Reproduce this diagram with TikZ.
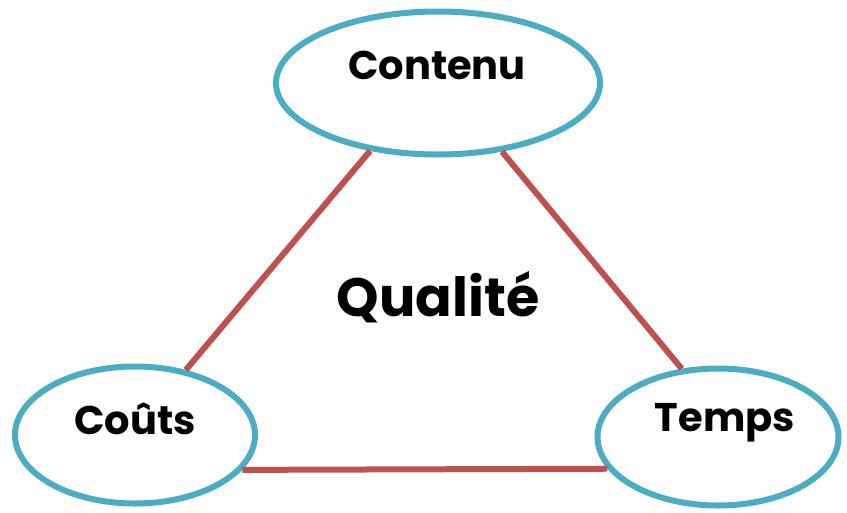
\documentclass[tikz,border=0pt]{standalone}
\usepackage{fontspec}
\setmainfont{Poppins}
\usetikzlibrary{shapes.geometric}
\definecolor{bordbleu}{RGB}{75,172,198}
\definecolor{lienrouge}{RGB}{192,80,77}

\begin{document}
\begin{tikzpicture}[x=1pt,y=-1pt,
  sommet/.style={ellipse, draw=bordbleu, line width=6pt, fill=white, inner sep=0pt},
  titre/.style={font=\bfseries\fontsize{40}{40}\selectfont},
  lien/.style={lienrouge, line width=6pt}]
\useasboundingbox (0,0) rectangle (847,512);

 \node[sommet, minimum width=324pt, minimum height=143pt] (contenu) at (438,83) {};
 \node[sommet, minimum width=240pt, minimum height=137pt] (couts) at (135,435) {};
 \node[sommet, minimum width=241pt, minimum height=137pt] (temps) at (718,437) {};

 \draw[lien] (contenu.225) -- (couts.52);
 \draw[lien] (contenu.-47) -- (temps.118);
 \draw[lien] (couts.-18) -- (temps.196);

 \node[titre] (tcontenu) at (437,65) {Contenu};
 \node[titre] (tcouts) at (135,419) {Coûts};
 \node[titre] (ttemps) at (725,423) {Temps};
 \node[titre, font=\bfseries\fontsize{54}{54}\selectfont] (qualite) at (438,297) {Qualité};
\end{tikzpicture}
\end{document}
